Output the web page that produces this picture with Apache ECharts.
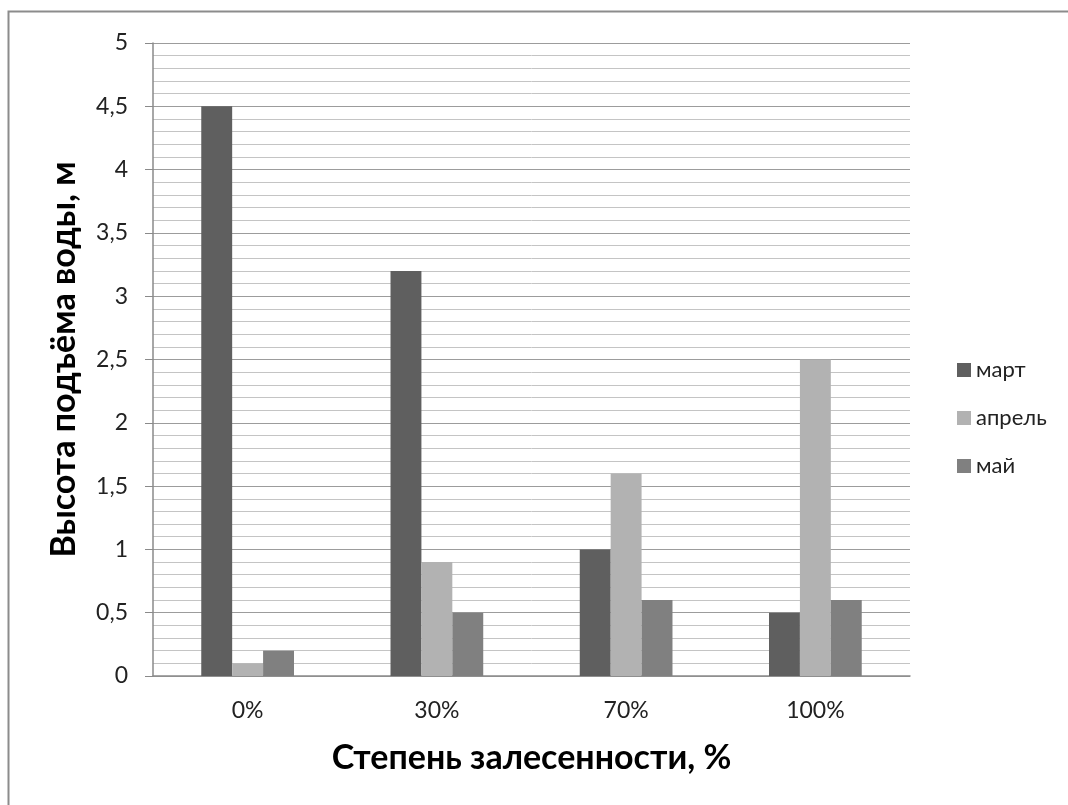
<!DOCTYPE html>
<html>
<head>
<meta charset="utf-8">
<script src="https://cdn.jsdelivr.net/npm/echarts@6/dist/echarts.min.js"></script>
<style>
html,body{margin:0;padding:0;background:#fff;}
#c{width:1068px;height:805px;}
</style>
</head>
<body>
<div id="c"></div>
<script>
var categories = ['0%', '30%', '70%', '100%'];
var seriesNames = ['март', 'апрель', 'май'];
var marchValues = [4.5, 3.2, 1.0, 0.5];
var aprilValues = [0.1, 0.9, 1.6, 2.5];
var mayValues = [0.2, 0.5, 0.6, 0.6];
var colors = ['#5f5f5f', '#b2b2b2', '#808080'];
var FONT = 'Lato, "Open Sans", sans-serif';

var chart = echarts.init(document.getElementById('c'), null, {renderer: 'canvas'});
function mk(name, data, color) {
  return {
    name: name, type: 'bar', data: data,
    barGap: '0%', barCategoryGap: '51%',
    itemStyle: {color: color},
    emphasis: {disabled: true},
    animation: false
  };
}
chart.setOption({
  animation: false,
  backgroundColor: '#fff',
  graphic: [{
    type: 'rect', shape: {x: 8.5, y: 11.5, width: 1100, height: 900},
    style: {fill: 'none', stroke: '#8c8c8c', lineWidth: 2}, z: 100
  }],
  grid: {left: 153, right: 158, top: 43, bottom: 129, containLabel: false},
  legend: {
    orient: 'vertical', left: 952, top: 354, itemGap: 26,
    itemWidth: 14, itemHeight: 14, icon: 'rect',
    textStyle: {fontFamily: FONT, fontSize: 22, color: '#222'},
    data: seriesNames
  },
  xAxis: {
    type: 'category', data: categories,
    name: 'Степень залесенности, %', nameLocation: 'middle', nameGap: 65,
    nameTextStyle: {fontFamily: FONT, fontSize: 34, fontWeight: 'bold', color: '#000'},
    axisLine: {lineStyle: {color: '#8a8a8a', width: 1.5}},
    axisTick: {show: false},
    axisLabel: {fontFamily: FONT, fontSize: 23, color: '#222', margin: 23}
  },
  yAxis: {
    type: 'value', min: 0, max: 5, interval: 0.5,
    name: 'Высота подъёма воды, м', nameLocation: 'middle', nameGap: 72,
    nameTextStyle: {fontFamily: FONT, fontSize: 34, fontWeight: 'bold', color: '#000'},
    axisLine: {show: true, lineStyle: {color: '#8a8a8a', width: 1.5}},
    axisTick: {show: true, length: 8, lineStyle: {color: '#8a8a8a'}},
    axisLabel: {fontFamily: FONT, fontSize: 23, color: '#222', margin: 25,
      formatter: function (v) { return String(Math.round(v * 10) / 10).replace('.', ','); }},
    splitLine: {lineStyle: {color: '#9c9c9c', width: 1.2}},
    minorTick: {show: false, splitNumber: 5},
    minorSplitLine: {show: true, lineStyle: {color: '#c4c4c4', width: 1}}
  },
  series: [
    mk(seriesNames[0], marchValues, colors[0]),
    mk(seriesNames[1], aprilValues, colors[1]),
    mk(seriesNames[2], mayValues, colors[2])
  ]
});
</script>
</body>
</html>
